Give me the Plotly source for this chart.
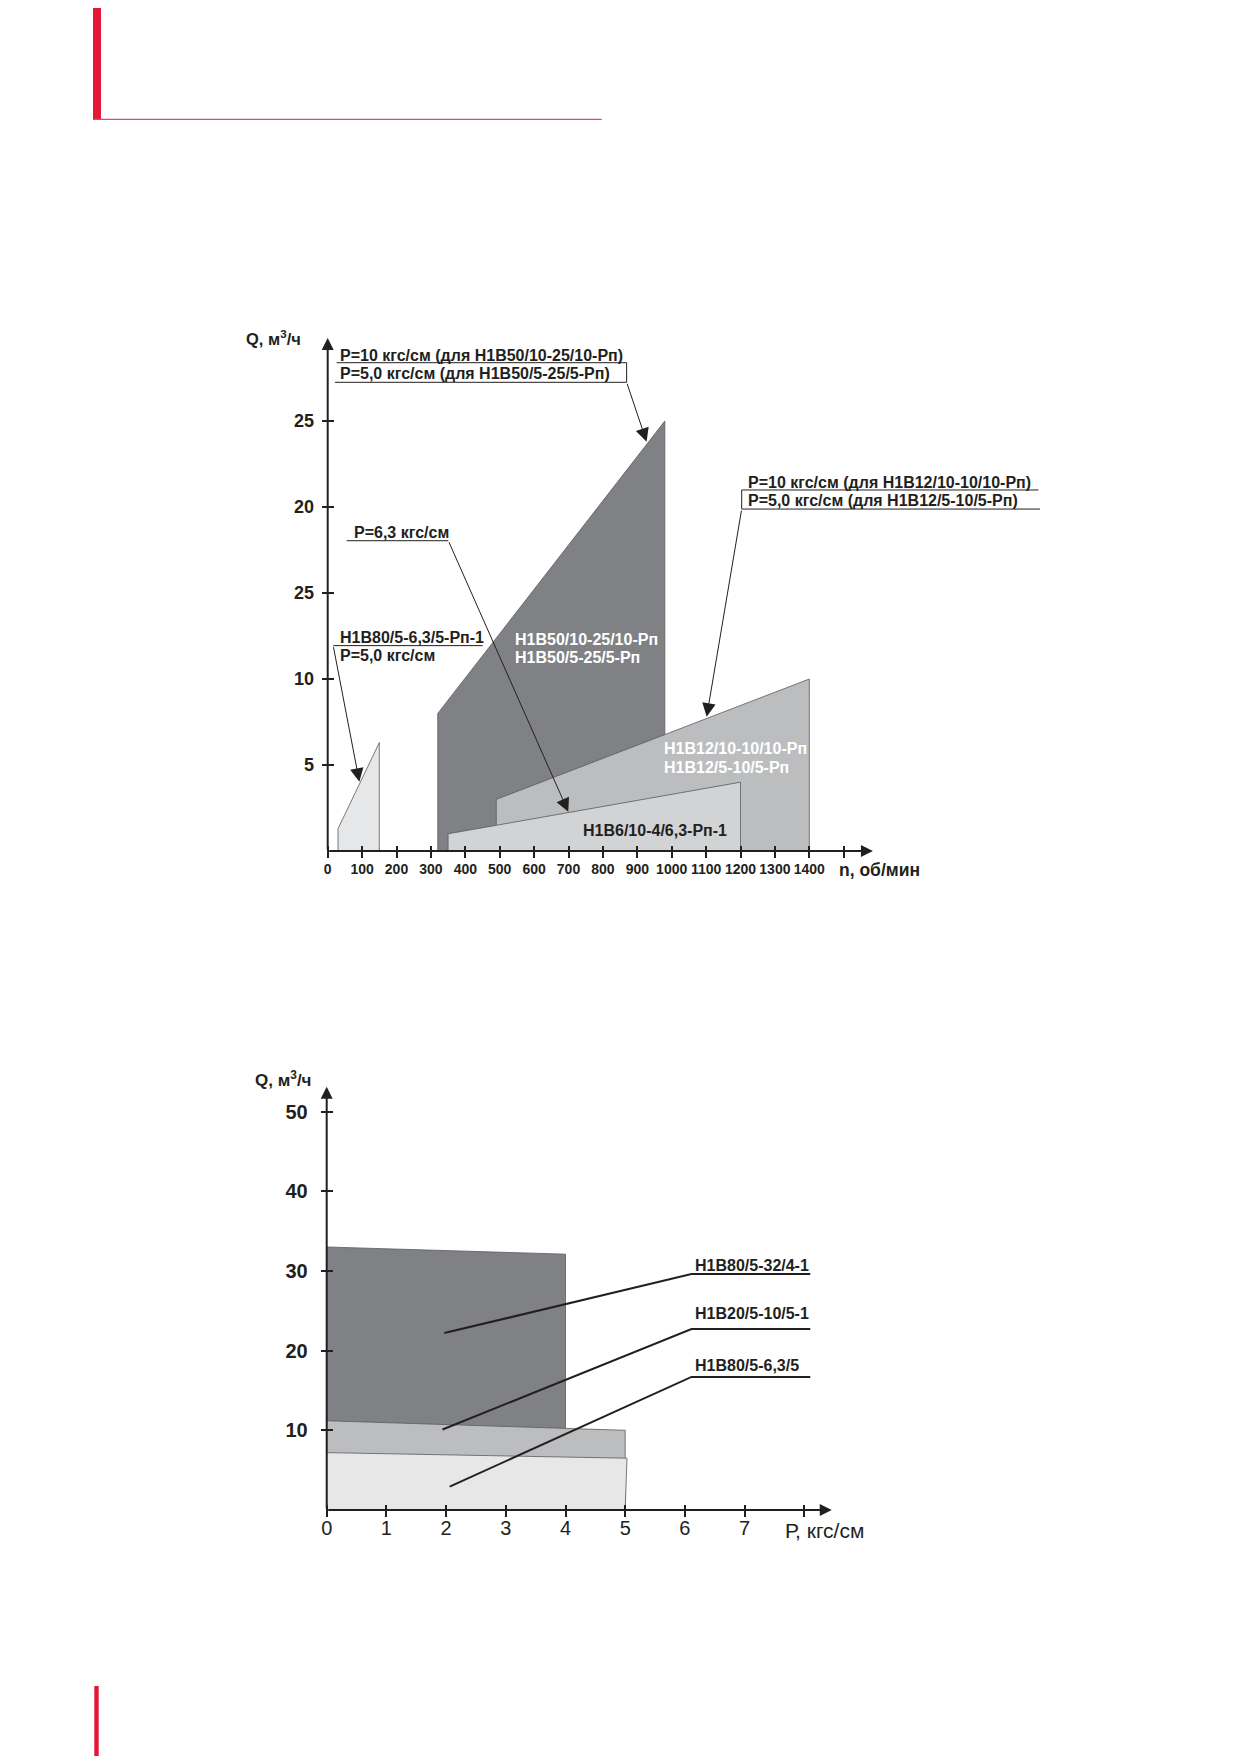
import plotly.graph_objects as go

# -----------------------------------------
# DATA
# -----------------------------------------
# top chart: Q, m3/h vs n, rpm  (polygon outlines)
n_h1b50 = [320, 320, 980, 980]
q_h1b50 = [0, 8.0, 25.0, 0]
n_h1b12 = [490, 490, 1400, 1400]
q_h1b12 = [0, 3.0, 10.0, 0]
n_h1b6 = [350, 350, 1200, 1200]
q_h1b6 = [0, 1.0, 4.0, 0]
n_h1b80 = [30, 30, 150, 150]
q_h1b80 = [0, 1.3, 6.3, 0]

n_ticks = list(range(0, 1600, 100))
n_ticktext = [str(v) for v in n_ticks[:-1]] + [""]
q_ticks_top = [5, 10, 15, 20, 25]
q_ticktext_top = ["5", "10", "25", "20", "25"]   # printed this way in the source

# bottom chart: Q, m3/h vs P, kgf/cm
p_h1b80_32 = [0, 0, 4, 4]
q_h1b80_32 = [0, 33.0, 32.1, 0]
p_h1b20 = [0, 0, 5, 5]
q_h1b20 = [0, 11.2, 10.0, 0]
p_h1b80_63 = [0, 0, 5.03, 5]
q_h1b80_63 = [0, 7.2, 6.5, 0]

p_ticks = list(range(0, 9))
p_ticktext = [str(v) for v in range(8)] + [""]
q_ticks_bot = [10, 20, 30, 40, 50]

# leader lines, in data units of each chart
lead_top_n = [26, 869, 869, 21, None, 16, 450.6, None, 55, 350.6, None, 2066, 1203.5, 1203.5, 2070.6]
lead_top_q = [28.39, 28.39, 27.25, 27.25, None, 11.94, 11.94, None, 18.04, 18.04, None, 20.99, 20.99, 19.88, 19.88]
lead_bot_p = [1.97, 6.11, 8.1, None, 1.94, 6.11, 8.1, None, 2.06, 6.11, 8.1]
lead_bot_q = [22.2, 29.6, 29.6, None, 10.1, 22.7, 22.7, None, 2.93, 16.7, 16.7]

# -----------------------------------------
# STYLE
# -----------------------------------------
W, H = 1239, 1756
OFF = 8          # page margin around the plot div
INK = "#231f20"
FONT = "Liberation Sans, Arial, sans-serif"
RED = "#e31837"
EDGE = "#5a5b5d"


def fx(px):
    return (px - OFF) / W


def fy(py):
    return 1 - (py - OFF) / H


def frame(left, right, top, bottom, x0, y0, sx, sy):
    """pixel box + pixel origin + px per unit -> domains and ranges"""
    xdom = [fx(left), fx(right)]
    xr = [(left - x0) / sx, (right - x0) / sx]
    ydom = [fy(bottom), fy(top)]
    yr = [(y0 - bottom) / sy, (y0 - top) / sy]
    return xdom, xr, ydom, yr


top_xd, top_xr, top_yd, top_yr = frame(230, 1120, 300, 895, 327.7, 851, 0.344, 17.2)
bot_xd, bot_xr, bot_yd, bot_yr = frame(230, 1000, 1060, 1565, 326.7, 1510, 59.7, 7.97)

fig = go.Figure()


def area(x, y, color, xa, ya):
    fig.add_trace(go.Scatter(
        x=x, y=y, fill="toself", fillcolor=color, mode="lines",
        line=dict(color=EDGE, width=0.8), hoverinfo="skip",
        xaxis=xa, yaxis=ya))


# top chart areas
area(n_h1b50, q_h1b50, "#808184", "x", "y")
area(n_h1b12, q_h1b12, "#bcbdbf", "x", "y")
area(n_h1b6, q_h1b6, "#d2d3d5", "x", "y")
area(n_h1b80, q_h1b80, "#e6e7e8", "x", "y")

# bottom chart areas
area(p_h1b80_32, q_h1b80_32, "#808184", "x2", "y2")
area(p_h1b20, q_h1b20, "#bcbdbf", "x2", "y2")
area(p_h1b80_63, q_h1b80_63, "#e6e7e6", "x2", "y2")

# leader lines
fig.add_trace(go.Scatter(x=lead_top_n, y=lead_top_q, mode="lines",
                         line=dict(color=INK, width=1), hoverinfo="skip",
                         xaxis="x", yaxis="y"))
fig.add_trace(go.Scatter(x=lead_bot_p, y=lead_bot_q, mode="lines",
                         line=dict(color=INK, width=2), hoverinfo="skip",
                         xaxis="x2", yaxis="y2"))

annotations = []


def arrow(xt, yt, xh, yh, xref, yref, width=1, size=2.7):
    annotations.append(dict(
        x=xh, y=yh, ax=xt, ay=yt, xref=xref, yref=yref, axref=xref, ayref=yref,
        text="", showarrow=True, arrowhead=2, arrowsize=size, arrowwidth=width,
        arrowcolor=INK, standoff=0, startstandoff=0))


def label(text, x, y, xref, yref, size=16, color=INK, bold=True, xanchor="left"):
    annotations.append(dict(
        x=x, y=y, xref=xref, yref=yref, text=text, showarrow=False,
        xanchor=xanchor, yanchor="middle",
        font=dict(family=FONT, size=size, color=color,
                  weight="bold" if bold else "normal")))


# axes as arrows
arrow(0, 0, 1585, 0, "x", "y", width=2, size=1.2)
arrow(0, 0, 0, 29.83, "x", "y", width=2, size=1.2)
arrow(0, 0, 8.46, 0, "x2", "y2", width=2, size=1.2)
arrow(0, 0, 0, 53.1, "x2", "y2", width=2, size=1.2)

# leader arrows, top chart
arrow(869, 27.25, 927, 23.8, "x", "y")
arrow(16, 11.94, 92, 4.03, "x", "y")
arrow(350.6, 18.04, 699.4, 2.28, "x", "y")
arrow(1203.5, 19.88, 1101.7, 7.81, "x", "y")

# top chart texts
label("Р=10 кгс/см (для Н1В50/10-25/10-Рп)", 29, 28.81, "x", "y")
label("Р=5,0 кгс/см (для Н1В50/5-25/5-Рп)", 29, 27.75, "x", "y")
label("Р=6,3 кгс/см", 69.8, 18.49, "x", "y")
label("Н1В80/5-6,3/5-Рп-1", 29, 12.41, "x", "y")
label("Р=5,0 кгс/см", 29, 11.35, "x", "y")
label("Н1В50/10-25/10-Рп", 539.5, 12.31, "x", "y", color="white")
label("Н1В50/5-25/5-Рп", 539.5, 11.27, "x", "y", color="white")
label("Н1В12/10-10/10-Рп", 971, 5.97, "x", "y", color="white")
label("Н1В12/5-10/5-Рп", 971, 4.87, "x", "y", color="white")
label("Н1В6/10-4/6,3-Рп-1", 737, 1.17, "x", "y")
label("Р=10 кгс/см (для Н1В12/10-10/10-Рп)", 1215, 21.44, "x", "y")
label("Р=5,0 кгс/см (для Н1В12/5-10/5-Рп)", 1215, 20.38, "x", "y")
label("n, об/мин", 1480.5, -1.1, "x", "y", size=17.5)
label("Q, м<sup>3</sup>/ч", -72, 29.8, "x", "y", size=16.5, xanchor="right")

# bottom chart texts
label("Н1В80/5-32/4-1", 6.13, 30.70, "x2", "y2")
label("Н1В20/5-10/5-1", 6.13, 24.63, "x2", "y2")
label("Н1В80/5-6,3/5", 6.13, 18.07, "x2", "y2")
label("Р, кгс/см", 7.65, -2.51, "x2", "y2", size=21, bold=False)
label("Q, м<sup>3</sup>/ч", -0.23, 54.1, "x2", "y2", size=17, xanchor="right")

axis_common = dict(showgrid=False, zeroline=False, showline=False,
                   ticks="outside", ticklen=12, tickwidth=1.6, tickcolor=INK,
                   anchor="free", fixedrange=True)

fig.update_layout(
    width=W, height=H,
    margin=dict(l=0, r=0, t=0, b=0),
    paper_bgcolor="white", plot_bgcolor="rgba(0,0,0,0)",
    showlegend=False,
    xaxis=dict(domain=top_xd, range=top_xr, tickvals=n_ticks, ticktext=n_ticktext,
               position=fy(845), ticklabelstandoff=-1,
               tickfont=dict(family=FONT, size=14, color=INK, weight="bold"),
               **axis_common),
    yaxis=dict(domain=top_yd, range=top_yr, tickvals=q_ticks_top, ticktext=q_ticktext_top,
               position=fx(333.7), ticklabelstandoff=4,
               tickfont=dict(family=FONT, size=18, color=INK, weight="bold"),
               **axis_common),
    xaxis2=dict(domain=bot_xd, range=bot_xr, tickvals=p_ticks, ticktext=p_ticktext,
                position=fy(1504), ticklabelstandoff=-6,
                tickfont=dict(family=FONT, size=20, color=INK),
                **axis_common),
    yaxis2=dict(domain=bot_yd, range=bot_yr, tickvals=q_ticks_bot,
                position=fx(332.7), ticklabelstandoff=9,
                tickfont=dict(family=FONT, size=20, color=INK, weight="bold"),
                **axis_common),
    annotations=annotations,
    shapes=[
        dict(type="rect", xref="paper", yref="paper", x0=fx(93), x1=fx(101),
             y0=fy(120), y1=1, fillcolor=RED, line=dict(width=0)),
        dict(type="line", xref="paper", yref="paper", x0=fx(93), x1=fx(601.7),
             y0=fy(119.3), y1=fy(119.3), line=dict(color="#e8455f", width=1.2)),
        dict(type="rect", xref="paper", yref="paper", x0=fx(94.3), x1=fx(98.7),
             y0=0, y1=fy(1686), fillcolor=RED, line=dict(width=0)),
    ],
)

fig.write_html("out.html")
